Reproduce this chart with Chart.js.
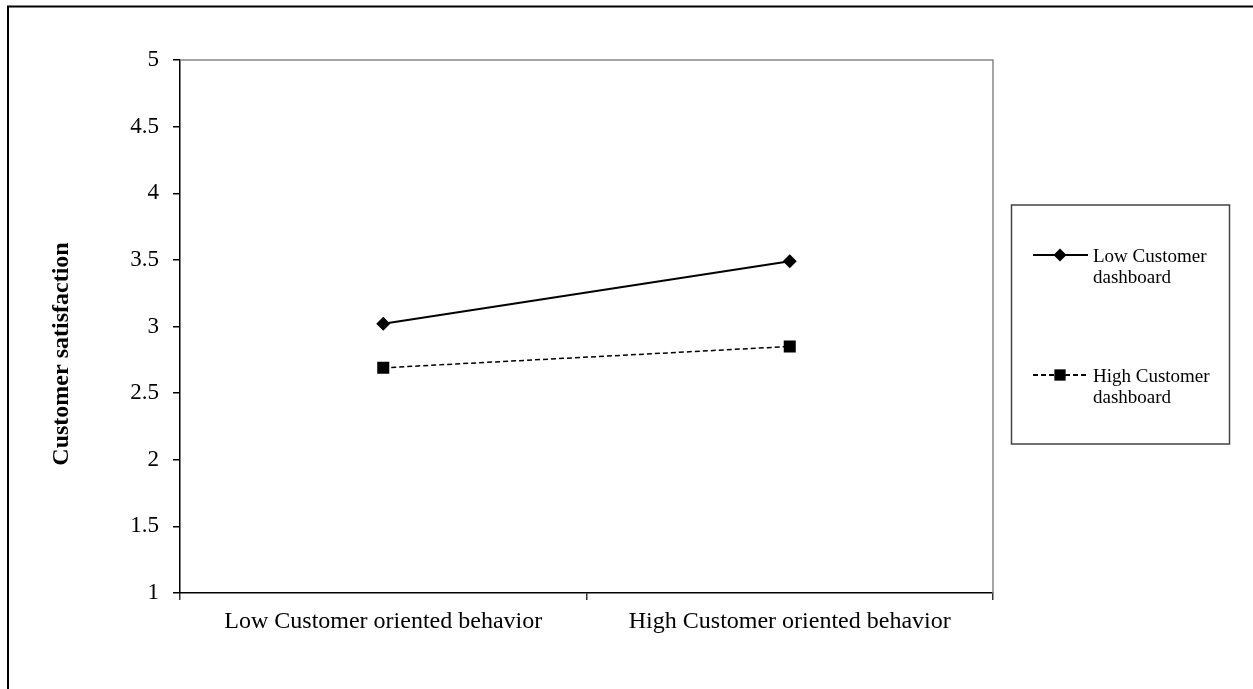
<!DOCTYPE html>
<html><head><meta charset="utf-8">
<script src="https://cdn.jsdelivr.net/npm/chart.js@4/dist/chart.umd.min.js"></script>
<style>html,body{margin:0;padding:0;background:#fff;overflow:hidden}#wrap{width:1253px;height:689px;position:relative}</style>
</head><body><div id="wrap"><canvas id="c" width="1253" height="689"></canvas></div>
<script>
const categories = ['Low Customer oriented behavior', 'High Customer oriented behavior'];
const seriesNames = ['Low Customer dashboard', 'High Customer dashboard'];
const lowDashboard = [3.02, 3.49];
const highDashboard = [2.69, 2.85];
const yTicks = [1, 1.5, 2, 2.5, 3, 3.5, 4, 4.5, 5];
const yTitle = 'Customer satisfaction';

const SERIF = '"Liberation Serif", "Times New Roman", serif';

const framePlugin = {
  id: 'frame',
  beforeDraw(chart) {
    const ctx = chart.ctx;
    ctx.save();
    ctx.fillStyle = '#fff';
    ctx.fillRect(0, 0, chart.width, chart.height);
    ctx.strokeStyle = '#000';
    ctx.lineWidth = 2;
    ctx.beginPath();
    ctx.moveTo(8, chart.height + 5);
    ctx.lineTo(8, 6.5);
    ctx.lineTo(chart.width + 5, 6.5);
    ctx.stroke();
    ctx.restore();
  },
  beforeDatasetsDraw(chart) {
    const a = chart.chartArea, ctx = chart.ctx;
    ctx.save();
    ctx.strokeStyle = '#888';
    ctx.lineWidth = 1.5;
    ctx.beginPath();
    ctx.moveTo(a.left, a.top);
    ctx.lineTo(a.right, a.top);
    ctx.lineTo(a.right, a.bottom);
    ctx.stroke();
    ctx.restore();
  },
  afterDraw(chart) {
    const ctx = chart.ctx;
    ctx.save();
    // y axis title
    ctx.translate(62, 354);
    ctx.rotate(-Math.PI / 2);
    ctx.fillStyle = '#000';
    ctx.font = 'bold 24px ' + SERIF;
    ctx.textAlign = 'center';
    ctx.textBaseline = 'middle';
    ctx.fillText(yTitle, 0, 0);
    ctx.restore();

    // legend
    ctx.save();
    ctx.strokeStyle = '#444';
    ctx.lineWidth = 1.5;
    ctx.strokeRect(1011.5, 205, 218, 239);
    const rows = [255, 375];
    chart.data.datasets.forEach((ds, i) => {
      const y = rows[i];
      ctx.strokeStyle = '#000';
      ctx.lineWidth = 2;
      ctx.setLineDash(ds.borderDash || []);
      ctx.beginPath();
      ctx.moveTo(1033, y);
      ctx.lineTo(1088, y);
      ctx.stroke();
      ctx.setLineDash([]);
      ctx.fillStyle = '#000';
      Chart.helpers.drawPoint(ctx, {pointStyle: ds.pointStyle, radius: ds.pointStyle === 'rect' ? 8 : 6.5, borderWidth: 0}, 1060, y);
      ctx.fillStyle = '#000';
      ctx.font = '19px ' + SERIF;
      ctx.textAlign = 'left';
      ctx.textBaseline = 'alphabetic';
      const label = ds.label;
      const idx = label.lastIndexOf(' ');
      ctx.fillText(label.slice(0, idx), 1093, y + 7);
      ctx.fillText(label.slice(idx + 1), 1093, y + 28);
    });
    ctx.restore();
  }
};

new Chart(document.getElementById('c'), {
  type: 'line',
  data: {
    labels: categories,
    datasets: [
      {
        label: seriesNames[0],
        data: lowDashboard,
        borderColor: '#000',
        backgroundColor: '#000',
        borderWidth: 2,
        pointStyle: 'rectRot',
        pointRadius: 7,
        pointBackgroundColor: '#000',
        pointBorderWidth: 0,
        tension: 0
      },
      {
        label: seriesNames[1],
        data: highDashboard,
        borderColor: '#000',
        backgroundColor: '#000',
        borderWidth: 1.5,
        borderDash: [5, 3],
        pointStyle: 'rect',
        pointRadius: 8.5,
        pointBackgroundColor: '#000',
        pointBorderWidth: 0,
        tension: 0
      }
    ]
  },
  options: {
    responsive: false,
    animation: false,
    devicePixelRatio: 1,
    layout: { padding: { left: 0, right: 260, top: 60, bottom: 0 } },
    plugins: { legend: { display: false }, tooltip: { enabled: false } },
    scales: {
      x: {
        type: 'category',
        offset: true,
        grid: { offset: true, drawOnChartArea: false, drawTicks: true, tickLength: 7, color: '#333', lineWidth: 1.5 },
        border: { color: '#000', width: 1.5 },
        ticks: { font: { family: SERIF, size: 24 }, color: '#000', padding: 7, maxRotation: 0, autoSkip: false },
        afterFit(scale) { scale.height = 96; }
      },
      y: {
        min: 1, max: 5,
        afterBuildTicks(scale) { scale.ticks = yTicks.map(v => ({ value: v })); },
        grid: { drawOnChartArea: false, drawTicks: true, tickLength: 7, color: '#000', lineWidth: 1.5 },
        border: { color: '#000', width: 1.5 },
        ticks: { font: { family: SERIF, size: 23 }, color: '#000', padding: 14, callback: v => String(v) },
        afterFit(scale) { scale.width = 180; }
      }
    }
  },
  plugins: [framePlugin]
});
</script>
</body></html>
